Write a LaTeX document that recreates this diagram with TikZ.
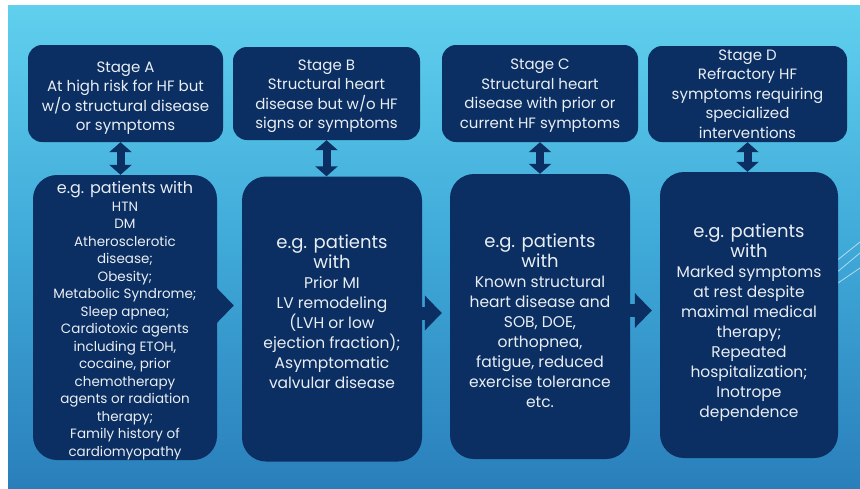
\documentclass[tikz,border=0pt]{standalone}
\usepackage{fontspec}
\setmainfont{Poppins}
\usetikzlibrary{arrows.meta,calc}
\definecolor{navy}{HTML}{0B2F62}
\definecolor{bgtop}{HTML}{60D0EE}
\definecolor{bgmid}{HTML}{3FA9D8}
\definecolor{bgbot}{HTML}{2A7FBB}
\definecolor{txt}{HTML}{E9EEF4}
\newcommand{\hdfont}{\fontsize{18}{20}\selectfont}
\newcommand{\hdAfont}{\fontsize{16}{17.5}\selectfont}
\begin{document}
\begin{tikzpicture}[x=1pt,y=-1pt,
  stagebox/.style={fill=navy, rounded corners=14pt, inner sep=0pt},
  stagetext/.style={text=txt, align=center, inner sep=0pt, font=\fontsize{15}{19.5}\selectfont},
  patbox/.style={fill=navy, rounded corners=24pt, inner sep=0pt},
  pattext/.style={text=txt, align=center, inner sep=0pt, font=\fontsize{15.5}{20}\selectfont},
  varrow/.style={draw=navy, line width=8pt,
    {Triangle[width=22pt,length=10pt]}-{Triangle[width=22pt,length=10pt]}},
  harrow/.style={draw=navy, line width=13pt, -{Triangle[width=34pt,length=17pt]}},
  deco/.style={draw=white, opacity=0.6, line width=0.8pt}]
\useasboundingbox (0,0) rectangle (860,488);
\shade[top color=bgtop, bottom color=bgbot, middle color=bgmid] (8,5) rectangle (860,488);
% decorative lines at right edge
\begin{scope}
\clip (8,5) rectangle (860,488);
\draw[deco] (830,266) -- (860,242);
\draw[deco] (830,278) -- (860,253);
\draw[deco] (835,285) -- (860,268);
\end{scope}
% stage boxes
\node[stagebox, minimum width=195pt, minimum height=97pt] (sA) at (125.5,93.5) {};
\node[stagebox, minimum width=187pt, minimum height=93pt] (sB) at (326.5,93.5) {};
\node[stagebox, minimum width=196pt, minimum height=97pt] (sC) at (540,93.5) {};
\node[stagebox, minimum width=199pt, minimum height=96pt] (sD) at (747.5,94) {};
\node[stagetext] (tsA) at ([yshift=-4.5pt]sA.center)
  {Stage A\\At high risk for HF but\\w/o structural disease\\or symptoms};
\node[stagetext] (tsB) at ([yshift=-2.5pt]sB.center)
  {Stage B\\Structural heart\\disease but w/o HF\\signs or symptoms};
\node[stagetext] (tsC) at ([yshift=-2pt]sC.center)
  {Stage C\\Structural heart\\disease with prior or\\current HF symptoms};
\node[stagetext] (tsD) at (sD.center)
  {Stage D\\Refractory HF\\symptoms requiring\\specialized\\interventions};
% patient boxes
\node[patbox, minimum width=184pt, minimum height=285pt] (pA) at (125,317.5) {};
\node[patbox, minimum width=180pt, minimum height=285pt] (pB) at (332,319) {};
\node[patbox, minimum width=180pt, minimum height=285pt] (pC) at (540,316.5) {};
\node[patbox, minimum width=178pt, minimum height=286pt] (pD) at (749,315) {};
% patient texts
\node[pattext, font=\fontsize{13.5}{17.5}\selectfont] (tA) at ([yshift=-3pt]pA.center)
  {\hdAfont e.g. patients with\\
   HTN\\DM\\Atherosclerotic\\disease;\\Obesity;\\Metabolic Syndrome;\\Sleep apnea;\\Cardiotoxic  agents\\including ETOH,\\cocaine, prior\\chemotherapy\\agents or radiation\\therapy;\\Family history of\\cardiomyopathy};
\node[pattext] (tB) at ([yshift=7pt]pB.center)
  {\hdfont e.g. patients\\\hdfont with\\Prior MI\\LV remodeling\\(LVH or low\\ejection fraction);\\Asymptomatic\\valvular disease};
\node[pattext] (tC) at ([yshift=-4.5pt]pC.center)
  {\hdfont e.g. patients\\\hdfont with\\Known structural\\heart disease and\\SOB, DOE,\\orthopnea,\\fatigue, reduced\\exercise tolerance\\etc.};
\node[pattext] (tD) at ([yshift=-7.5pt]pD.center)
  {\hdfont e.g. patients\\\hdfont with\\Marked symptoms\\at rest despite\\maximal medical\\therapy;\\Repeated\\hospitalization;\\Inotrope\\dependence};
% vertical double arrows
\draw[varrow] ([xshift=-5pt]sA.south) -- ([xshift=-5pt]sA.south |- pA.north);
\draw[varrow] (sB.south) -- (sB.south |- pB.north);
\draw[varrow] (sC.south) -- (sC.south |- pC.north);
\draw[varrow] (sD.south) -- (sD.south |- pD.north);
% horizontal arrows
\draw[harrow] ([xshift=-8pt,yshift=12pt]pA.east) -- ([xshift=-8pt,yshift=12pt]pA.east -| pB.west);
\draw[harrow] ([xshift=-8pt,yshift=6pt]pB.east) -- ([xshift=-8pt,yshift=6pt]pB.east -| pC.west);
\draw[harrow] ([xshift=-8pt,yshift=6pt]pC.east) -- ([xshift=-8pt,yshift=6pt]pC.east -| pD.west);
\end{tikzpicture}
\end{document}
